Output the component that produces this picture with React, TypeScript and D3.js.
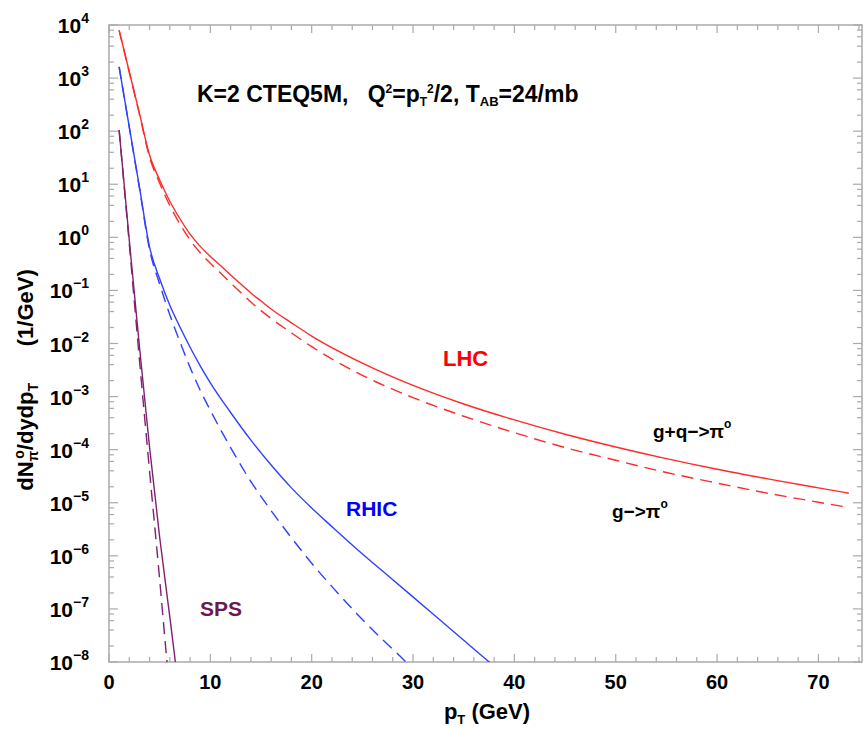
import React from "react";
import * as d3 from "d3";

// ---- data (log10 of dN/dydpT, 1/GeV) ----
const lhcPt = [1, 2, 3, 4, 5, 6, 7, 8, 9, 10, 11, 12, 13, 14, 15, 16, 18, 20, 25, 30, 35, 40, 45, 50, 55, 60, 65, 70, 73];
const lhcGQLog = [3.9, 3.12, 2.34, 1.55, 1.08, 0.68, 0.35, 0.06, -0.17, -0.36, -0.53, -0.71, -0.88, -1.05, -1.2, -1.35, -1.61, -1.86, -2.37, -2.79, -3.14, -3.44, -3.71, -3.95, -4.17, -4.37, -4.55, -4.72, -4.82];
const lhcGLog = [3.9, 3.11, 2.32, 1.51, 1.02, 0.6, 0.25, -0.05, -0.29, -0.49, -0.67, -0.86, -1.04, -1.22, -1.38, -1.53, -1.8, -2.06, -2.6, -3.02, -3.37, -3.68, -3.96, -4.2, -4.43, -4.63, -4.82, -4.99, -5.09];

const rhicGQPt = [1, 2, 3, 4, 5, 6, 7, 8, 9, 10, 12, 14, 16, 18, 20, 22, 24.5, 28, 32, 35, 37.7, 38.2];
const rhicGQLog = [3.21, 2.08, 0.95, -0.18, -0.78, -1.28, -1.69, -2.07, -2.42, -2.74, -3.3, -3.82, -4.29, -4.72, -5.1, -5.45, -5.88, -6.45, -7.1, -7.59, -8.03, -8.11];
const rhicGPt = [1, 2, 3, 4, 5, 6, 7, 8, 9, 10, 12, 14, 16, 18, 20, 22, 24.5, 27, 29.2, 29.6];
const rhicGLog = [3.21, 2.07, 0.93, -0.23, -0.88, -1.46, -1.97, -2.45, -2.88, -3.26, -3.96, -4.6, -5.15, -5.66, -6.14, -6.58, -7.1, -7.58, -7.98, -8.06];

const spsGQPt = [1, 2, 3, 4, 5, 6, 6.55, 6.65];
const spsGQLog = [2.02, -0.05, -2.05, -3.95, -5.65, -7.15, -8.0, -8.15];
const spsGPt = [1, 2, 3, 4, 5, 5.7, 5.8];
const spsGLog = [2.02, -0.12, -2.3, -4.4, -6.45, -7.95, -8.15];

const xMajorTicks = [0, 10, 20, 30, 40, 50, 60, 70];
const yDecades = [4, 3, 2, 1, 0, -1, -2, -3, -4, -5, -6, -7, -8];

const W = 867, H = 729;
const L = 109, R = 862, T = 25, B = 662;

const FONT = "'Liberation Sans', Arial, Helvetica, sans-serif";

export default function App() {
  const x = d3.scaleLinear().domain([0, 74.3]).range([L, R]);
  const y = d3.scaleLog().domain([1e-8, 1e4]).range([B, T]);

  const mk = (pt: number[], lg: number[]) => pt.map((p, i) => [p, Math.pow(10, lg[i])] as [number, number]);
  const line = d3.line<[number, number]>().x(d => x(d[0])).y(d => y(d[1])).curve(d3.curveMonotoneX);

  const series = [
    { d: mk(lhcPt, lhcGQLog), color: "#ff2a2a", dash: null },
    { d: mk(lhcPt, lhcGLog), color: "#ff2a2a", dash: "12,7" },
    { d: mk(rhicGQPt, rhicGQLog), color: "#3040ff", dash: null },
    { d: mk(rhicGPt, rhicGLog), color: "#3040ff", dash: "12,7" },
    { d: mk(spsGQPt, spsGQLog), color: "#7f2070", dash: null },
    { d: mk(spsGPt, spsGLog), color: "#7f2070", dash: "12,7" },
  ];

  const axisColor = "#aaaaaa";
  const xMinor = d3.range(0, 74.3, 2);
  const yMinor: number[] = [];
  yDecades.forEach(e => {
    if (e < 4) [2, 4, 6, 8].forEach(m => yMinor.push(m * Math.pow(10, e)));
  });

  return (
    <svg width={W} height={H} style={{ position: "absolute", left: 0, top: 0, background: "#fff" }} fontFamily={FONT}>
      <defs>
        <clipPath id="plot">
          <rect x={L} y={T} width={R - L} height={B - T} />
        </clipPath>
      </defs>
      <rect x={0} y={0} width={W} height={H} fill="#fff" />
      {/* frame */}
      <rect x={L} y={T} width={R - L} height={B - T} fill="none" stroke={axisColor} strokeWidth={1.5} />
      {/* x ticks */}
      {xMinor.map(v => {
        const len = v % 10 === 0 ? 8 : 5;
        return (
          <g key={"xt" + v} stroke={axisColor} strokeWidth={1.2}>
            <line x1={x(v)} x2={x(v)} y1={B} y2={B - len} />
            <line x1={x(v)} x2={x(v)} y1={T} y2={T + len} />
          </g>
        );
      })}
      {/* y ticks */}
      {yDecades.map(e => (
        <g key={"yt" + e} stroke={axisColor} strokeWidth={1.2}>
          <line x1={L} x2={L + 9} y1={y(Math.pow(10, e))} y2={y(Math.pow(10, e))} />
          <line x1={R} x2={R - 9} y1={y(Math.pow(10, e))} y2={y(Math.pow(10, e))} />
        </g>
      ))}
      {yMinor.map((v, i) => (
        <g key={"ym" + i} stroke={axisColor} strokeWidth={1.2}>
          <line x1={L} x2={L + 5} y1={y(v)} y2={y(v)} />
          <line x1={R} x2={R - 5} y1={y(v)} y2={y(v)} />
        </g>
      ))}
      {/* x tick labels */}
      {xMajorTicks.map(v => (
        <text key={"xl" + v} x={x(v)} y={689} textAnchor="middle" fontSize={20} fontWeight="bold" fill="#000">
          {v}
        </text>
      ))}
      {/* y tick labels */}
      {yDecades.map(e => (
        <text key={"yl" + e} x={89} y={y(Math.pow(10, e)) + 8} textAnchor="end" fontSize={21} fontWeight="bold" fill="#000">
          10
          <tspan dy={-10} fontSize={14}>{e < 0 ? "\u2212" + Math.abs(e) : String(e)}</tspan>
        </text>
      ))}
      {/* curves */}
      <g clipPath="url(#plot)">
        {series.map((s, i) => (
          <path key={"s" + i} d={line(s.d) || ""} fill="none" stroke={s.color} strokeWidth={1.4} strokeDasharray={s.dash || undefined} />
        ))}
      </g>
      {/* annotations */}
      <text x={197} y={102} fontSize={23} fontWeight="bold" fill="#000">
        K=2 CTEQ5M,{"\u00a0\u00a0\u00a0"}Q<tspan dy={-9} fontSize={12}>2</tspan>
        <tspan dy={9}>=p</tspan>
        <tspan dy={4} fontSize={12}>T</tspan>
        <tspan dy={-13} fontSize={12}>2</tspan>
        <tspan dy={9}>/2, T</tspan>
        <tspan dy={4} fontSize={13}>AB</tspan>
        <tspan dy={-4}>=24/mb</tspan>
      </text>
      <text x={443} y={366} fontSize={22} fontWeight="bold" fill="#ff0000">LHC</text>
      <text x={346} y={516} fontSize={21} fontWeight="bold" fill="#0000ff">RHIC</text>
      <text x={200} y={616} fontSize={21} fontWeight="bold" fill="#6e1850">SPS</text>
      <text x={653} y={438} fontSize={19} fontWeight="bold" fill="#000">
        g+q{"\u2212"}&gt;π<tspan dy={-10} fontSize={12}>o</tspan>
      </text>
      <text x={612} y={518} fontSize={19} fontWeight="bold" fill="#000">
        g{"\u2212"}&gt;π<tspan dy={-10} fontSize={12}>o</tspan>
      </text>
      {/* axis titles */}
      <text x={487} y={719} textAnchor="middle" fontSize={22} fontWeight="bold" fill="#000">
        p<tspan dy={5} fontSize={13}>T</tspan>
        <tspan dy={-5}>{"\u00a0"}(GeV)</tspan>
      </text>
      <text transform="translate(33,380) rotate(-90)" textAnchor="middle" fontSize={22} fontWeight="bold" fill="#000">
        dN<tspan dy={5} fontSize={14}>π</tspan>
        <tspan dx={-8} dy={-14} fontSize={14}>o</tspan>
        <tspan dy={9}>/dydp</tspan>
        <tspan dy={5} fontSize={14}>T</tspan>
        <tspan dy={-5}>{"\u00a0\u00a0\u00a0\u00a0\u00a0\u00a0"}(1/GeV)</tspan>
      </text>
    </svg>
  );
}
